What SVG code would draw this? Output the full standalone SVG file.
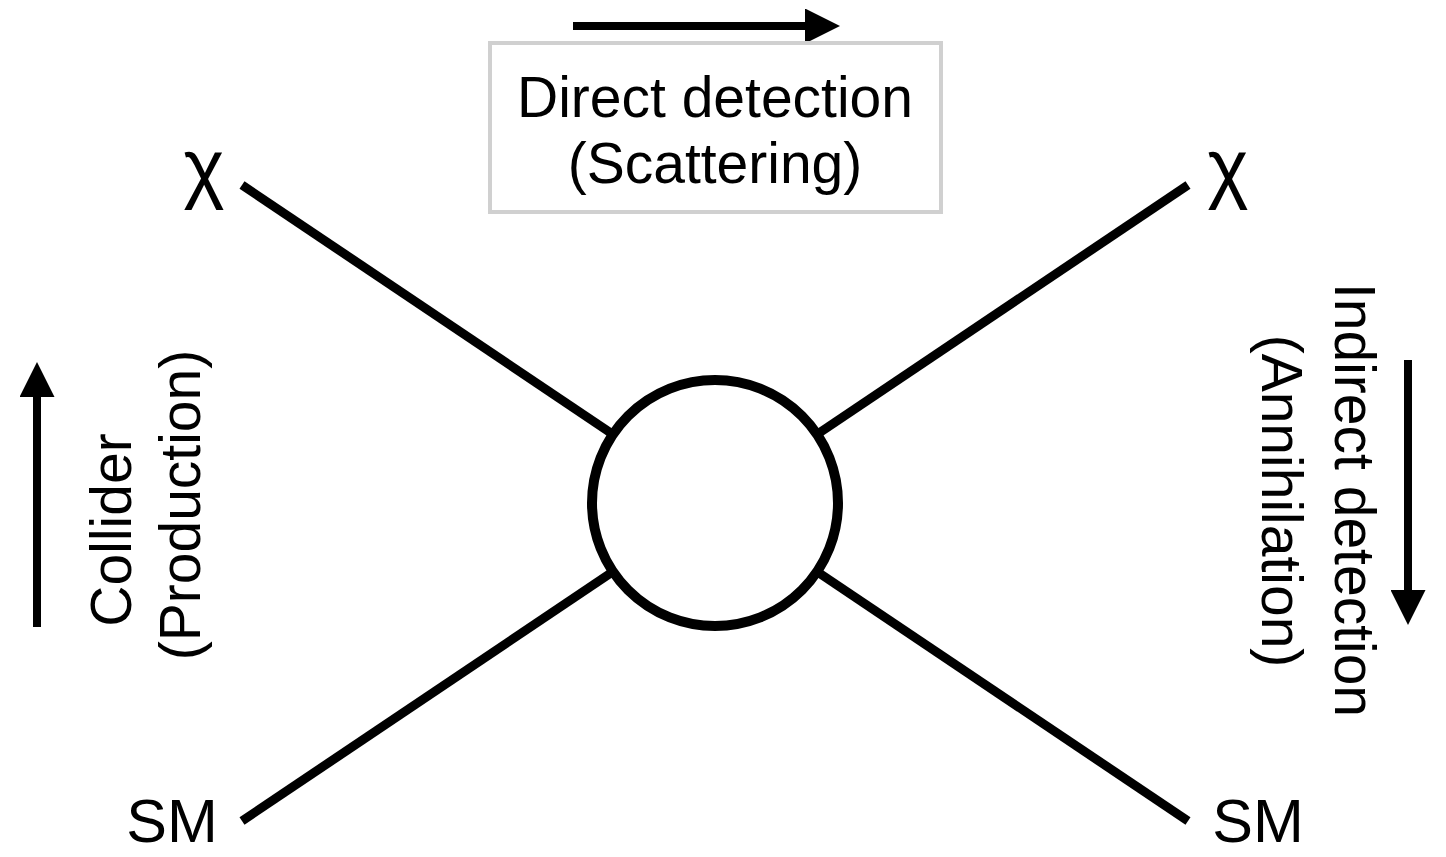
<svg xmlns="http://www.w3.org/2000/svg" width="1446" height="857" viewBox="0 0 1446 857">
  <style>
    .lbl { font-family: "Liberation Sans", Arial, Helvetica, sans-serif; font-size: 57px; fill: #000; }
    .sym { font-family: "Liberation Sans", Arial, Helvetica, sans-serif; fill: #000; text-anchor: middle; }
    .leg { stroke: #000; stroke-width: 9; fill: none; }
    .arr { stroke: #000; stroke-width: 8; fill: none; }
  </style>
  <defs>
    <marker id="head" markerUnits="userSpaceOnUse" viewBox="0 0 35 35" markerWidth="35" markerHeight="35" refX="1" refY="17.5" orient="auto">
      <path d="M0,0 L35,17.5 L0,35 z" fill="#000"/>
    </marker>
  </defs>
  <rect width="1446" height="857" fill="#fff"/>

  <g id="connectors">
    <line class="leg" x1="242" y1="185" x2="715" y2="503"/>
    <line class="leg" x1="1188" y1="185" x2="715" y2="503"/>
    <line class="leg" x1="242" y1="821" x2="715" y2="503"/>
    <line class="leg" x1="1188" y1="821" x2="715" y2="503"/>
  </g>

  <g id="vertex">
    <circle cx="715" cy="503" r="123" fill="#fff" stroke="#000" stroke-width="10"/>
  </g>

  <g id="chi-left">
    <text class="sym" x="204" y="194" font-size="78">χ</text>
  </g>
  <g id="chi-right">
    <text class="sym" x="1228" y="194" font-size="78">χ</text>
  </g>
  <g id="sm-left">
    <text class="sym" x="172" y="842" font-size="61">SM</text>
  </g>
  <g id="sm-right">
    <text class="sym" x="1258" y="842" font-size="61">SM</text>
  </g>

  <g id="direct-detection">
    <line class="arr" x1="573" y1="26" x2="806" y2="26" marker-end="url(#head)"/>
    <rect x="490" y="43" width="451" height="169" fill="#fff" stroke="#d0d0d0" stroke-width="4"/>
    <text class="lbl" x="715" y="117" text-anchor="middle">Direct detection</text>
    <text class="lbl" x="715" y="183" text-anchor="middle">(Scattering)</text>
  </g>

  <g id="collider">
    <line class="arr" x1="37" y1="627" x2="37" y2="396" marker-end="url(#head)"/>
    <text class="lbl" text-anchor="middle" transform="translate(131,530) rotate(-90)">Collider</text>
    <text class="lbl" text-anchor="middle" transform="translate(200,505) rotate(-90)">(Production)</text>
  </g>

  <g id="indirect-detection">
    <line class="arr" x1="1408" y1="360" x2="1408" y2="591" marker-end="url(#head)"/>
    <text class="lbl" text-anchor="middle" transform="translate(1335,500) rotate(90)">Indirect detection</text>
    <text class="lbl" text-anchor="middle" transform="translate(1262,501) rotate(90)">(Annihilation)</text>
  </g>
</svg>
